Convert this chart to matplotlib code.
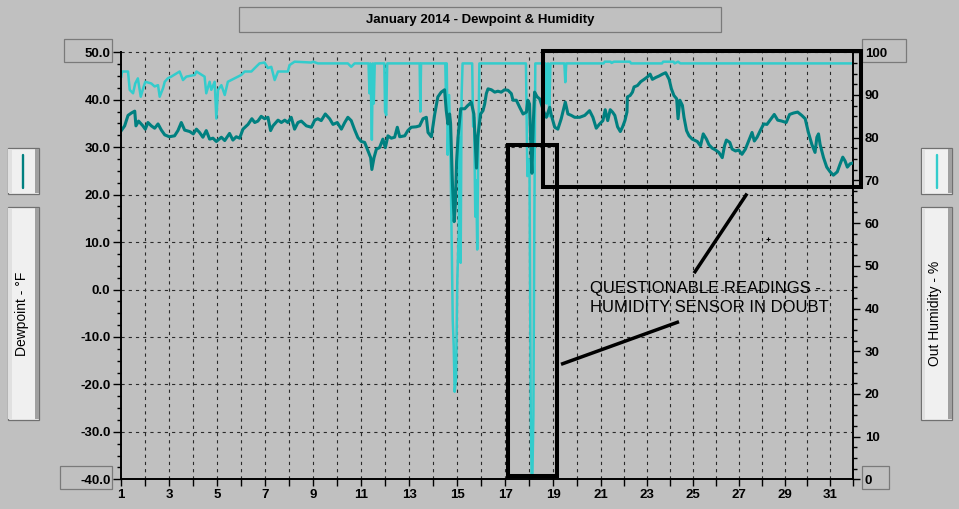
import numpy as np
import matplotlib
matplotlib.use('Agg')
import matplotlib.pyplot as plt
from matplotlib.patches import Rectangle
from matplotlib.ticker import MultipleLocator

# ---------------- data ----------------
title = "January 2014 - Dewpoint & Humidity"
dew_label = "Dewpoint - °F"
hum_label = "Out Humidity - %"
note_lines = ["QUESTIONABLE READINGS -", "HUMIDITY SENSOR IN DOUBT"]

dew_days = [
    1.00, 1.14, 1.28, 1.42, 1.56, 1.61, 1.72, 1.90, 2.00, 2.11, 2.25, 2.39, 2.53, 2.67, 2.81,
    3.00, 3.22, 3.36, 3.50, 3.64, 3.85, 4.00, 4.13, 4.26, 4.40, 4.54, 4.68, 4.82, 4.96, 5.17,
    5.31, 5.51, 5.65, 5.79, 5.93, 6.07, 6.28, 6.44, 6.56, 6.69, 6.83, 6.97, 7.11, 7.22, 7.32,
    7.53, 7.67, 7.81, 7.94, 8.08, 8.22, 8.36, 8.50, 8.71, 8.92, 9.06, 9.19, 9.33, 9.50, 9.68,
    9.82, 10.00, 10.17, 10.31, 10.44, 10.58, 10.72, 10.86, 11.00, 11.14, 11.28, 11.39, 11.44,
    11.53, 11.63, 11.76, 11.90, 12.00, 12.11, 12.25, 12.39, 12.50, 12.60, 12.81, 12.94, 13.08,
    13.29, 13.43, 13.57, 13.71, 13.78, 13.92, 14.06, 14.19, 14.33, 14.47, 14.54, 14.61, 14.68,
    14.72, 14.80, 14.87, 14.92, 14.97, 15.03, 15.14, 15.31, 15.44, 15.51, 15.58, 15.69, 15.76,
    15.80, 15.85, 15.97, 16.07, 16.14, 16.21, 16.28, 16.42, 16.56, 16.69, 16.83, 16.97, 17.11,
    17.25, 17.32, 17.46, 17.60, 17.74, 17.88, 17.94, 18.01, 18.08, 18.11, 18.14, 18.17, 18.22,
    18.33, 18.43, 18.61, 18.71, 18.85, 18.92, 19.06, 19.19, 19.33, 19.50, 19.61, 19.75, 19.89,
    20.10, 20.31, 20.51, 20.65, 20.79, 20.93, 21.07, 21.17, 21.28, 21.39, 21.49, 21.59, 21.71,
    21.83, 21.93, 22.03, 22.12, 22.14, 22.26, 22.36, 22.43, 22.58, 22.72, 22.87, 23.01, 23.13,
    23.23, 23.38, 23.52, 23.67, 23.81, 23.96, 24.06, 24.17, 24.29, 24.35, 24.43, 24.54, 24.61,
    24.72, 24.83, 24.97, 25.19, 25.33, 25.45, 25.59, 25.70, 25.84, 25.99, 26.13, 26.28, 26.38,
    26.46, 26.61, 26.71, 26.86, 27.00, 27.14, 27.29, 27.43, 27.58, 27.68, 27.80, 27.94, 28.09,
    28.23, 28.41, 28.55, 28.70, 28.88, 29.07, 29.22, 29.39, 29.57, 29.75, 29.90, 30.04, 30.19,
    30.33, 30.41, 30.48, 30.55, 30.70, 30.84, 30.99, 31.13, 31.30, 31.42, 31.54, 31.64, 31.74,
    31.86, 32.00,
]
dew_vals = [
    33.5, 34.5, 36.7, 37.2, 37.6, 34.5, 35.5, 34.5, 33.8, 35.2, 34.5, 34.0, 34.9, 33.6, 32.6,
    32.2, 32.4, 33.5, 35.2, 33.6, 33.3, 32.8, 33.8, 33.1, 32.1, 33.5, 31.7, 31.9, 31.2, 32.1,
    31.4, 32.9, 31.5, 32.2, 31.9, 33.8, 34.8, 36.0, 35.2, 35.5, 36.5, 36.0, 36.3, 33.5, 34.5,
    35.7, 35.2, 35.7, 35.2, 36.3, 33.8, 35.2, 35.5, 34.5, 34.2, 35.7, 36.0, 35.6, 37.0, 36.0,
    34.8, 35.2, 33.8, 35.2, 36.3, 35.6, 33.7, 32.0, 31.2, 31.0, 29.2, 27.8, 25.3,
    27.8, 29.6, 29.9, 31.7, 29.9, 32.4, 31.9, 32.1, 34.2, 32.2, 32.4, 33.5, 34.2,
    34.3, 34.5, 36.0, 36.3, 33.1, 32.2, 37.0, 40.6, 41.6, 42.1, 37.7, 34.9, 37.0,
    35.0, 22.0, 14.3, 18.0, 27.0, 32.0, 38.1, 38.1, 38.8, 39.1, 39.5, 37.0, 30.0,
    25.6, 32.0, 37.0, 37.7, 39.1, 41.3, 42.3, 42.1, 41.6, 41.8, 41.6, 42.1, 42.0,
    41.3, 39.9, 39.9, 38.4, 37.0, 37.4, 39.9, 39.1, 28.0, 24.5, 30.0, 35.6, 41.6,
    40.6, 40.2, 37.4, 36.3, 38.4, 36.7, 34.2, 33.8, 36.0, 39.5, 37.0, 36.7, 36.3,
    36.3, 36.7, 37.7, 36.3, 34.0, 34.9, 35.6, 37.9, 35.6, 37.9, 37.4, 36.7, 34.3,
    33.3, 34.3, 35.6, 37.4, 40.6, 40.9, 41.6, 42.7, 43.0, 43.8, 44.3, 44.8, 45.4,
    44.3, 44.7, 45.0, 45.4, 45.7, 44.3, 42.3, 40.9, 40.2, 36.0, 39.9, 38.8, 36.3,
    33.5, 32.4, 31.7, 31.2, 30.3, 32.8, 31.7, 30.5, 29.8, 29.4, 28.9, 27.8, 30.3,
    31.5, 31.0, 29.6, 29.2, 29.4, 28.5, 29.6, 31.3, 33.1, 31.3, 32.1, 33.5, 34.9,
    34.8, 36.0, 36.9, 35.7, 35.5, 35.2, 36.9, 37.2, 37.4, 36.7, 36.0, 33.1, 30.6,
    28.9, 32.1, 32.8, 30.6, 27.8, 25.8, 24.8, 24.1, 24.8, 26.4, 27.9, 27.1, 25.8,
    26.5, 26.7,
]

hum_days = [
    1.00, 1.03, 1.28, 1.35, 1.49, 1.58, 1.69, 1.81, 1.94, 2.00, 2.25, 2.39, 2.53, 2.60, 2.74,
    2.81, 2.94, 3.08, 3.43, 3.57, 3.71, 4.06, 4.13, 4.47, 4.54, 4.68, 4.75, 4.89, 4.96, 5.03,
    5.17, 5.31, 5.44, 5.72, 6.00, 6.14, 6.42, 6.56, 6.76, 6.97, 7.11, 7.25, 7.39, 7.53, 7.94,
    8.01, 8.22, 8.92, 8.99, 9.19, 10.44, 10.58, 10.72, 11.30, 11.34, 11.38, 11.44, 11.48,
    11.52, 11.56, 11.96, 11.99, 12.04, 12.08, 13.43, 13.46, 13.49, 14.50, 14.53, 14.56, 14.60,
    14.66, 14.72, 14.81, 14.85, 14.89, 14.95, 15.00, 15.06, 15.10, 15.14, 15.18, 15.22, 15.62,
    15.66, 15.70, 15.75, 15.79, 15.83, 15.87, 15.92, 17.86, 17.92, 17.97, 18.01, 18.06, 18.10,
    18.13, 18.17, 18.21, 18.25, 18.68, 18.72, 18.78, 18.83, 18.88, 19.46, 19.50, 19.54, 21.10,
    21.15, 21.40, 21.45, 21.55, 22.25, 22.30, 23.65, 23.70, 24.15, 24.20, 24.35, 24.45, 32.00,
]
hum_vals = [
    94.3, 95.5, 95.5, 91.2, 90.4, 92.7, 93.9, 89.6, 92.1, 93.1, 92.7, 92.0, 92.3, 89.6, 91.6,
    93.1, 93.9, 94.3, 95.5, 93.5, 94.3, 94.7, 95.5, 94.3, 90.4, 93.1, 91.2, 93.1, 84.5, 91.2,
    92.3, 90.0, 93.1, 93.9, 94.7, 95.5, 95.5, 96.3, 97.4, 97.6, 96.3, 96.6, 93.5, 95.5, 95.5,
    97.0, 97.8, 97.6, 97.8, 97.4, 97.4, 96.6, 97.4, 97.4, 90.4, 97.4, 79.5, 97.4,
    88.0, 97.4, 97.4, 86.1, 85.3, 97.4, 97.4, 86.1, 97.4, 97.4, 88.8, 97.4, 76.0,
    90.0, 74.9, 37.3, 31.4, 20.5, 23.7, 46.7, 58.1, 80.0, 50.7, 90.0, 97.4, 97.4,
    82.6, 84.8, 61.5, 70.0, 53.8, 75.0, 97.4, 97.4, 71.0, 75.0, 71.5, 14.7, 0.0,
    1.0, 15.0, 60.0, 97.4, 97.4, 88.0, 97.4, 85.0, 97.4, 97.4, 93.0, 97.4, 97.4,
    97.8, 97.8, 97.5, 97.8, 97.8, 97.4, 97.4, 97.8, 97.8, 97.4, 97.8, 97.4, 97.4,
]

x_major = list(range(1, 32, 2))
x_minor = list(range(2, 33, 2))
dew_ticks = list(range(-40, 51, 10))
hum_ticks = list(range(0, 101, 10))

# ---------------- style ----------------
W, H = 959, 509
BG = '#C0C0C0'
TEAL = '#008080'
CYAN = '#33CCCC'
GRID = '#2A2A2A'
plt.rcParams['font.family'] = ['Liberation Sans', 'DejaVu Sans']
plt.rcParams['lines.scale_dashes'] = False

fig = plt.figure(figsize=(W / 100, H / 100), dpi=100, facecolor=BG)

# overlay in pixel coordinates for the window decorations
ov = fig.add_axes([0, 0, 1, 1], zorder=0)
ov.set_xlim(0, W)
ov.set_ylim(H, 0)
ov.axis('off')


def panel(x0, y0, x1, y1):
    ov.add_patch(Rectangle((x0, y0), x1 - x0, y1 - y0, facecolor='#F0F0F0',
                           edgecolor='#707070', lw=0.9))
    ov.add_patch(Rectangle((x0 + 0.8, y0 + 0.8), 3.2, y1 - y0 - 1.6,
                           facecolor='#E0E0E0', lw=0))
    ov.add_patch(Rectangle((x1 - 4.4, y0 + 0.8), 3.6, y1 - y0 - 1.6,
                           facecolor='#A0A0A0', lw=0))


def box(x0, y0, x1, y1):
    ov.add_patch(Rectangle((x0, y0), x1 - x0, y1 - y0, fill=False,
                           edgecolor='#7A7A7A', lw=0.9))


# title
box(239.3, 7.3, 721.3, 31.7)
ov.text(480.5, 22.5, title, ha='center', va='baseline', fontsize=9.5,
        fontweight='bold', color='black')

# left panels
panel(7.5, 148.3, 39.3, 194.0)
ov.plot([23.3, 23.3], [154.5, 187.5], color=TEAL, lw=1.7, solid_capstyle='round')
panel(7.5, 206.7, 39.3, 420.0)
ov.text(22.0, 314, dew_label, rotation=90, ha='center', va='center', fontsize=10,
        color='black')

# right panels
panel(920.7, 148.3, 952.3, 194.0)
ov.plot([936.7, 936.7], [154.5, 187.5], color=CYAN, lw=1.7, solid_capstyle='round')
panel(920.7, 206.7, 952.3, 420.0)
ov.text(935.5, 313, hum_label, rotation=90, ha='center', va='center', fontsize=10,
        color='black')

# end-value boxes
box(64.3, 39.3, 112.3, 62.3)
box(60.3, 466.0, 112.3, 489.3)
box(861.7, 39.3, 905.7, 62.3)
box(861.7, 466.0, 889.0, 489.3)

# ---------------- main axes ----------------
L, R, T, B = 121.3, 853.3, 52.3, 479.3
ax = fig.add_axes([L / W, 1 - B / H, (R - L) / W, (B - T) / H], zorder=2)
ax2 = ax.twinx()
ax2.set_zorder(1)
ax.set_zorder(2)
ax.patch.set_visible(False)
ax2.patch.set_visible(False)


def fwd(d):
    d = np.asarray(d, dtype=float)
    return np.where(d < 21, (d - 1) * 24.0, 480.0 + (d - 21) * (252.0 / 11))


def inv(v):
    v = np.asarray(v, dtype=float)
    return np.where(v < 480, 1 + v / 24.0, 21 + (v - 480) / (252.0 / 11))


ax.set_xscale('function', functions=(fwd, inv))
ax.set_xlim(1, 32)
ax.set_ylim(-40, 50)
ax2.set_ylim(0, 100)

# grid (drawn in the lower axes so the curves sit on top)
dash = (0, (2.3, 2.9))
for d in range(2, 32):
    ax2.axvline(d, color=GRID, lw=0.8, ls=dash, zorder=0.5)
for g in dew_ticks[1:]:
    ax2.axhline((g - dew_ticks[0]) / (dew_ticks[-1] - dew_ticks[0]) * 100,
                color=GRID, lw=0.8, ls=dash, zorder=0.5, clip_on=False)

# curves
ax2.plot(hum_days, hum_vals, color=CYAN, lw=1.8, zorder=2)
ax.plot(dew_days, dew_vals, color=TEAL, lw=2.2, zorder=2)

# ticks
ax.set_xticks(x_major, labels=[str(d) for d in x_major], fontweight='bold', fontsize=9.5)
ax.set_xticks(x_minor, minor=True)
ax.tick_params(axis='x', which='both', direction='out', length=4.8, width=1.0, pad=2,
               colors='black')

ax.set_yticks(dew_ticks, labels=[f'{v:.1f}' for v in dew_ticks], fontweight='bold',
              fontsize=9.5)
ax.yaxis.set_minor_locator(MultipleLocator(2.5))
ax.tick_params(axis='y', which='major', direction='out', length=5.8, width=1.0, pad=2)
ax.tick_params(axis='y', which='minor', direction='out', length=2.6, width=1.0)

ax2.set_yticks(hum_ticks, labels=[str(v) for v in hum_ticks], fontweight='bold',
               fontsize=9.5)
ax2.yaxis.set_minor_locator(MultipleLocator(2.5))
ax2.tick_params(axis='y', which='major', direction='out', length=5.2, width=1.0, pad=3)
ax2.tick_params(axis='y', which='minor', direction='out', length=2.6, width=1.0)

for s in ('top', 'right'):
    ax.spines[s].set_visible(False)
for s in ('top', 'left', 'bottom'):
    ax2.spines[s].set_visible(False)
ax.spines['left'].set_linewidth(1.4)
ax.spines['bottom'].set_linewidth(1.4)
ax2.spines['right'].set_linewidth(1.4)

# ---------------- annotations ----------------
ax.add_patch(Rectangle((17.11, -39.25), 19.17 - 17.11, 30.46 + 39.25, fill=False,
                       edgecolor='black', lw=2.9, clip_on=False, joinstyle='miter',
                       zorder=5))
ax.add_patch(Rectangle((18.58, 21.55), 32.35 - 18.58, 50.2 - 21.55, fill=False,
                       edgecolor='black', lw=2.9, clip_on=False, joinstyle='miter',
                       zorder=5))
ax.plot([19.39, 24.32], [-15.64, -6.91], color='black', lw=2.5, clip_on=False, zorder=5)
ax.plot([25.09, 27.32], [3.75, 19.92], color='black', lw=2.5, clip_on=False, zorder=5)
ax.plot([28.28], [10.64], marker='+', ms=3, mew=0.8, color='black', zorder=5)
ax.text(20.53, -0.74, note_lines[0], fontsize=12, ha='left', va='baseline',
        color='black', zorder=6)
ax.text(20.53, -4.74, note_lines[1], fontsize=12, ha='left', va='baseline',
        color='black', zorder=6)

fig.savefig('out.png', dpi=100, facecolor=BG)
